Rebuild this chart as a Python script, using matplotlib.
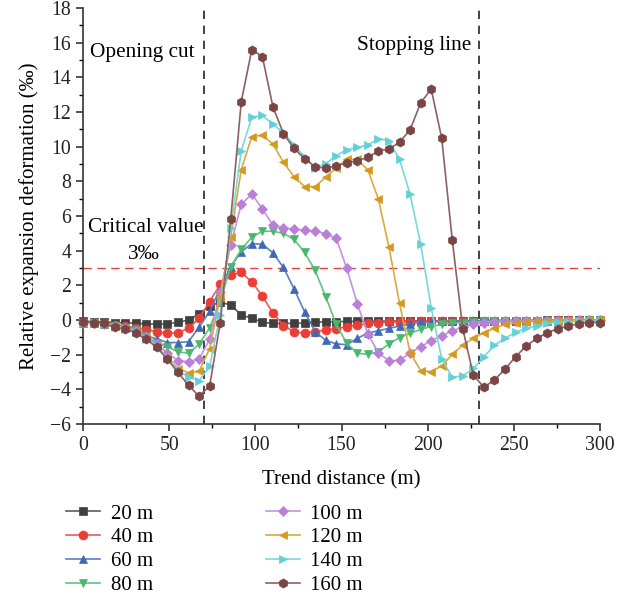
import numpy as np
import matplotlib
matplotlib.use("Agg")
import matplotlib.pyplot as plt
from matplotlib.ticker import MultipleLocator

plt.rcParams['font.family'] = ['Liberation Serif', 'DejaVu Serif']
plt.rcParams['axes.unicode_minus'] = True

x = np.linspace(0, 300, 50)

labels = ["20 m", "40 m", "60 m", "80 m", "100 m", "120 m", "140 m", "160 m"]

s20 = [-0.05, -0.1, -0.1, -0.15, -0.15, -0.19, -0.23, -0.23, -0.23, -0.13,
       0.0, 0.35, 0.81, 1.02, 0.87, 0.29, 0.1, -0.13, -0.2, -0.2,
       -0.19, -0.17, -0.13, -0.1, -0.1, -0.08, -0.08, -0.07, -0.07, -0.06,
       -0.06, -0.05, -0.05, -0.05, -0.05, -0.04, -0.04, -0.04, -0.04, -0.03,
       -0.03, -0.03, -0.03, -0.03, -0.02, -0.02, -0.02, -0.02, -0.02, -0.02]
s40 = [-0.1, -0.15, -0.2, -0.28, -0.35, -0.45, -0.56, -0.67, -0.77, -0.73,
       -0.48, 0.1, 1.06, 2.05, 2.6, 2.75, 2.2, 1.38, 0.4, -0.32,
       -0.67, -0.77, -0.67, -0.58, -0.5, -0.38, -0.29, -0.2, -0.15, -0.12,
       -0.1, -0.09, -0.08, -0.07, -0.06, -0.06, -0.05, -0.05, -0.04, -0.04,
       -0.04, -0.03, -0.03, -0.03, -0.03, -0.02, -0.02, -0.02, -0.02, -0.02]
s60 = [-0.15, -0.2, -0.22, -0.3, -0.4, -0.6, -0.9, -1.1, -1.3, -1.3,
       -1.25, -0.42, 0.5, 1.8, 3.08, 3.94, 4.4, 4.38, 3.87, 3.03,
       1.8, 0.48, -0.67, -1.17, -1.38, -1.42, -1.06, -0.75, -0.62, -0.48,
       -0.35, -0.22, -0.13, -0.1, -0.08, -0.07, -0.06, -0.05, -0.05, -0.04,
       -0.04, -0.04, -0.03, -0.03, -0.03, -0.03, -0.02, -0.02, -0.02, -0.02]
s80 = [-0.15, -0.2, -0.25, -0.35, -0.45, -0.6, -0.95, -1.3, -1.55, -1.83,
       -1.92, -1.4, -0.45, 1.06, 3.08, 4.07, 4.78, 5.12, 5.12, 5.0,
       4.65, 3.9, 2.86, 1.35, -0.24, -1.35, -1.92, -1.98, -1.83, -1.38,
       -1.02, -0.77, -0.54, -0.38, -0.25, -0.2, -0.15, -0.1, -0.08, -0.07,
       -0.06, -0.05, -0.05, -0.04, -0.04, -0.03, -0.03, -0.03, -0.02, -0.02]
s100 = [-0.15, -0.2, -0.25, -0.35, -0.45, -0.65, -1.0, -1.4, -1.9, -2.35,
        -2.4, -2.25, -1.12, 1.6, 4.33, 6.67, 7.27, 6.4, 5.48, 5.31,
        5.23, 5.19, 5.13, 4.98, 4.71, 2.98, 0.94, -0.81, -1.88, -2.37,
        -2.31, -1.92, -1.54, -1.19, -0.92, -0.62, -0.42, -0.25, -0.15, -0.1,
        -0.08, -0.06, -0.05, -0.04, -0.04, -0.03, -0.03, -0.02, -0.02, -0.02]
s120 = [-0.15, -0.2, -0.25, -0.35, -0.45, -0.7, -1.05, -1.5, -2.15, -2.8,
        -3.04, -2.96, -1.65, 1.3, 4.8, 8.68, 10.58, 10.67, 10.15, 9.1,
        8.27, 7.7, 7.7, 8.23, 8.78, 9.26, 9.26, 8.66, 6.96, 4.2,
        0.96, -1.88, -2.92, -2.98, -2.65, -1.98, -1.44, -1.06, -0.73, -0.48,
        -0.25, -0.17, -0.1, -0.07, -0.05, -0.04, -0.03, -0.03, -0.02, -0.02]
s140 = [-0.15, -0.2, -0.25, -0.38, -0.5, -0.7, -1.08, -1.5, -2.2, -2.9,
        -3.3, -3.5, -2.68, 0.3, 5.3, 9.77, 11.7, 11.8, 11.3, 10.8,
        10.1, 9.4, 8.78, 9.02, 9.48, 9.83, 9.96, 10.1, 10.46, 10.35,
        9.27, 7.25, 4.4, 0.71, -2.25, -3.31, -3.22, -2.79, -2.12, -1.44,
        -1.06, -0.71, -0.48, -0.33, -0.19, -0.13, -0.1, -0.08, -0.06, -0.05]
s160 = [-0.1, -0.15, -0.19, -0.42, -0.54, -0.73, -1.12, -1.58, -2.27, -3.02,
        -3.77, -4.39, -3.81, -0.19, 5.81, 12.6, 15.6, 15.2, 12.3, 10.75,
        9.9, 9.3, 8.85, 8.75, 8.9, 9.06, 9.19, 9.39, 9.75, 9.87,
        10.25, 10.98, 12.52, 13.33, 10.48, 4.6, -0.52, -3.2, -3.87, -3.46,
        -2.83, -2.12, -1.5, -1.06, -0.73, -0.5, -0.35, -0.21, -0.15, -0.15]

series = [s20, s40, s60, s80, s100, s120, s140, s160]
colors = ['#404040', '#ea3d38', '#3f68b5', '#48b86c', '#ba7fd9', '#d49a1e', '#62d0d6', '#7a4545']
markers = ['s', 'o', '^', 'v', 'D', '<', '>', 'h']
msizes = [5.6, 6.4, 6.4, 6.4, 5.4, 6.4, 6.4, 6.6]

opening_x = 70
stopping_x = 230
critical = 3

def lighten(c, f=0.3):
    c = np.array(matplotlib.colors.to_rgb(c))
    return tuple(c + (1 - c) * f)

fig = plt.figure(figsize=(6.33, 5.99), dpi=100)
ax = fig.add_axes([83/633, (599-424)/599, 517/633, 416/599])

ax.axhline(critical, color='#e8403a', lw=1.0, ls=(0, (6, 4)), zorder=1)
ax.axvline(opening_x, color='#222222', lw=1.2, ls=(0, (5, 4)), zorder=1)
ax.axvline(stopping_x, color='#222222', lw=1.2, ls=(0, (5, 4)), zorder=1)

for s, c, m, ms, lab in zip(series, colors, markers, msizes, labels):
    ax.plot(x, s, color=lighten(c, 0.15), lw=1.2, marker=m, ms=ms,
            mfc=c, mec=c, mew=0.5, label=lab, zorder=3, clip_on=False)

ax.set_xlim(0, 300)
ax.set_ylim(-6, 18)
ax.xaxis.set_major_locator(MultipleLocator(50))
ax.xaxis.set_minor_locator(MultipleLocator(25))
ax.yaxis.set_major_locator(MultipleLocator(2))
ax.yaxis.set_minor_locator(MultipleLocator(1))
ax.tick_params(which='major', direction='out', length=5, width=1.1, labelsize=14.2, colors='#222222')
ax.tick_params(which='minor', direction='out', length=3, width=1.0)
ax.spines['top'].set_visible(False)
ax.spines['right'].set_visible(False)
for sp in ['left', 'bottom']:
    ax.spines[sp].set_linewidth(1.2)
    ax.spines[sp].set_color('#333333')

ax.set_xlabel("Trend distance (m)", fontsize=15, labelpad=11)
ax.set_ylabel("Relative expansion deformation (‰)", fontsize=15, labelpad=8)

ax.text(4, 15.45, "Opening cut", fontsize=15.3, va='center', ha='left')
ax.text(159, 15.85, "Stopping line", fontsize=15.3, va='center', ha='left')
ax.text(3, 5.35, "Critical value", fontsize=15.3, va='center', ha='left')
ax.text(26, 3.8, "3‰", fontsize=15.3, va='center', ha='left')

handles, labs = ax.get_legend_handles_labels()
fig.legend(handles, labs, ncol=2, loc='upper left', bbox_to_anchor=(66/633, 1 - 504/599),
           frameon=False, fontsize=15, handlelength=1.65, handletextpad=0.5,
           columnspacing=5.4, labelspacing=0.2, borderaxespad=0, borderpad=0)

fig.savefig("out.png", dpi=100)
